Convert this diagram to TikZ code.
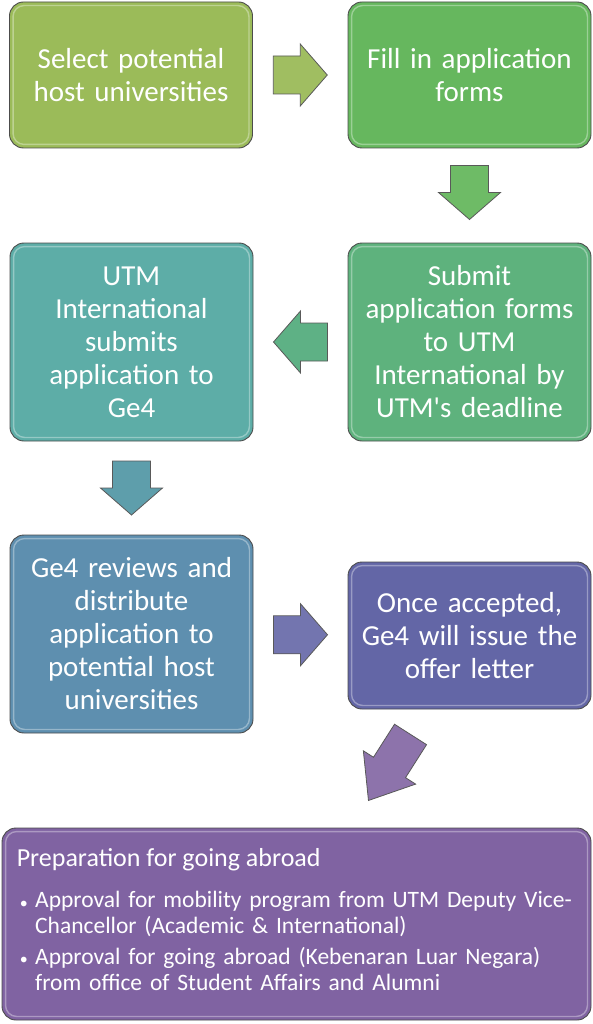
\documentclass[tikz,border=0pt]{standalone}
\usepackage{fontspec}
\setmainfont{Carlito}
\usetikzlibrary{calc}

\definecolor{selcol}{HTML}{9BBB59}
\definecolor{fillcol}{HTML}{66B75E}
\definecolor{submitcol}{HTML}{5EB27D}
\definecolor{utmcol}{HTML}{5DADA7}
\definecolor{reviewcol}{HTML}{5E8FAF}
\definecolor{offercol}{HTML}{6366A6}
\definecolor{prepcol}{HTML}{8063A2}

\tikzset{
  stepbox/.style={draw=black!70, line width=0.9pt, rounded corners=14pt,
    text=white, align=center, minimum width=243pt, text width=232pt,
    font=\fontsize{29}{33}\selectfont},
  gloss/.style={white, opacity=0.35, line width=1.4pt, rounded corners=11pt},
  arrowstyle/.style={draw=black!65, line width=0.8pt},
  preptext/.style={anchor=north west, text=white, text width=560pt, align=left,
    inner sep=0pt, font=\fontsize{23.5}{26}\selectfont},
  prepdot/.style={text=white, font=\fontsize{16}{16}\selectfont, inner sep=0pt, anchor=east}
}

% block arrow: [extra options]{centre}{angle}{colour}
\newcommand{\blockarrow}[4][]{%
  \begin{scope}[shift={#2}, rotate=#3, #1]
    \filldraw[arrowstyle, fill=#4] (-27,-19) -- (0,-19) -- (0,-31) -- (27,0)
      -- (0,31) -- (0,19) -- (-27,19) -- cycle;
  \end{scope}}

\begin{document}
\begin{tikzpicture}[x=1pt, y=-1pt]
    \useasboundingbox (0,0) rectangle (593,1024);

    % Steps
    \node[stepbox, fill=selcol, minimum height=146pt] (sel) at (131,75)
        {Select potential\\host universities};
    \node[stepbox, fill=fillcol, minimum height=146pt] (fill) at (469.5,75)
        {Fill in application\\forms};
    \node[stepbox, fill=submitcol, minimum height=198pt] (submit) at (469.5,342)
        {Submit\\application forms\\to UTM\\International by\\UTM\textquotesingle s deadline};
    \node[stepbox, fill=utmcol, minimum height=198pt] (utm) at (131.5,342)
        {UTM\\International\\submits\\application to\\Ge4};
    \node[stepbox, fill=reviewcol, minimum height=198pt] (review) at (131.5,634)
        {Ge4 reviews and\\distribute\\application to\\potential host\\universities};
    \node[stepbox, fill=offercol, minimum height=147pt] (offer) at (469.5,635.5)
        {Once accepted,\\Ge4 will issue the\\offer letter};
    \node[stepbox, fill=prepcol, minimum width=589pt, minimum height=192pt,
        text width=570pt] (prep) at (296.5,924) {};

    % Highlights
    \foreach \n in {sel,fill,submit,utm,review,offer,prep}
        \draw[gloss] ([shift={(4,4)}]\n.north west) rectangle ([shift={(-4,-4)}]\n.south east);

    % Last step text
    \node[anchor=west, text=white, font=\fontsize{26}{30}\selectfont, inner sep=0pt]
        (prephead) at ([shift={(15,0)}]prep.west |- 0,860) {Preparation for going abroad};
    \node[preptext] (prepone) at (35,891)
        {Approval for mobility program from UTM Deputy Vice-\\Chancellor (Academic \& International)};
    \node[preptext] (preptwo) at (35,947)
        {Approval for going abroad (Kebenaran Luar Negara)\\from office of Student Affairs and Alumni};
    \node[prepdot] at ([shift={(-7,0)}]prepone.north west |- 0,905) {\textbullet};
    \node[prepdot] at ([shift={(-7,0)}]preptwo.north west |- 0,961) {\textbullet};

    % Arrows between steps
    \blockarrow{($(sel.east)!0.5!(fill.west)$)}{0}{selcol!95!white}
    \blockarrow{($(fill.south)!0.5!(submit.north)+(0,-3)$)}{-90}{fillcol!95!white}
    \blockarrow{($(submit.west)!0.5!(utm.east)$)}{180}{submitcol!80!utmcol}
    \blockarrow{($(utm.south)!0.5!(review.north)$)}{-90}{utmcol!50!reviewcol}
    \blockarrow{($(review.east)!0.5!(offer.west)$)}{0}{offercol!90!white}
    \blockarrow[xscale=1.45]{($(offer.south)+(-80,58)$)}{237.5}{prepcol!90!white}
\end{tikzpicture}
\end{document}
